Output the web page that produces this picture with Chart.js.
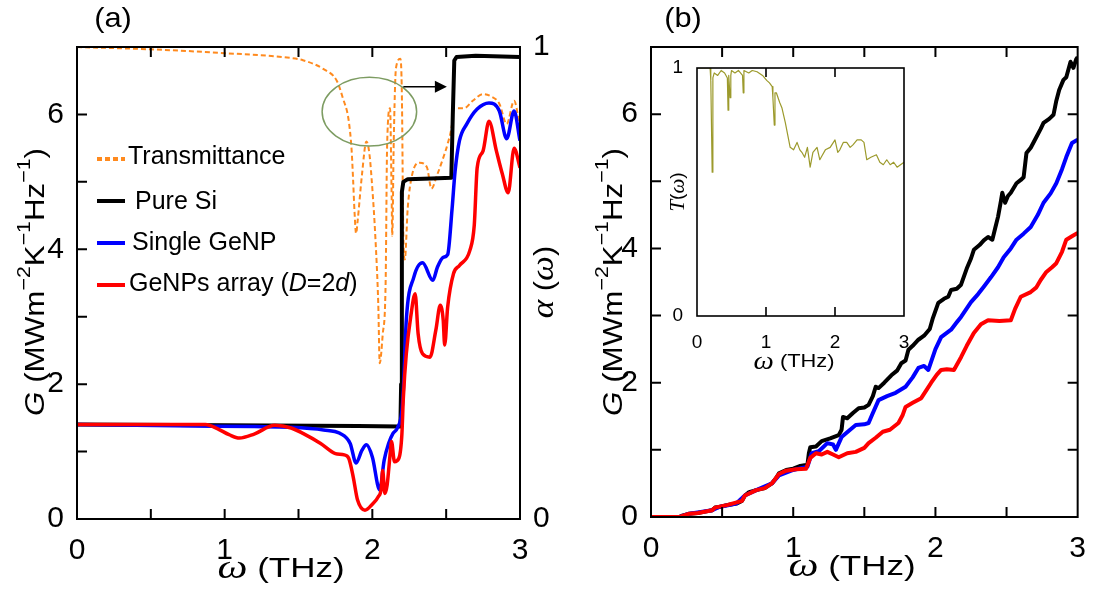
<!DOCTYPE html>
<html>
<head>
<meta charset="utf-8">
<script src="https://cdn.jsdelivr.net/npm/chart.js@4.4.0/dist/chart.umd.min.js"></script>
<style>
  body { margin: 0; background: #fff; }
  #wrap { position: relative; width: 1095px; height: 590px; overflow: hidden; }
  .box { position: absolute; }
</style>
</head>
<body>
<div id="wrap">
  <div class="box" style="left:0;top:0"><canvas id="graficoA" width="560" height="590"></canvas></div>
  <div class="box" style="left:560px;top:0"><canvas id="graficoB" width="535" height="590"></canvas></div>
  <div class="box" style="left:630px;top:50px"><canvas id="graficoInset" width="300" height="330"></canvas></div>
</div>
<script>
// ===============================
//   DADOS  (omega em THz, G em MWm-2K-1Hz-1)
// ===============================
// painel (a)
const aTransmitancia = [[0,1.0],[0.5,0.995],[1.0,0.987],[1.44,0.977],[1.53,0.972],[1.67,0.953],[1.76,0.928],[1.8,0.892],
  [1.84,0.844],[1.86,0.78],[1.87,0.717],[1.88,0.647],[1.89,0.605],[1.9,0.63],[1.93,0.73],[1.96,0.80],[1.98,0.774],[2.0,0.70],
  [2.02,0.6],[2.04,0.457],[2.05,0.33],[2.07,0.39],[2.09,0.5],[2.1,0.79],[2.12,0.87],[2.13,0.7],[2.135,0.6],[2.145,0.8],
  [2.16,0.955],[2.19,0.975],[2.2,0.9],[2.21,0.6],[2.22,0.55],[2.24,0.66],[2.27,0.73],[2.32,0.755],[2.37,0.745],[2.4,0.70],
  [2.44,0.73],[2.48,0.765],[2.51,0.795],[2.54,0.837],[2.55,0.87],[2.62,0.87],[2.68,0.886],[2.75,0.9],[2.8,0.896],
  [2.86,0.88],[2.91,0.837],[2.96,0.886],[3.0,0.83]];
const aPureSi = [[0,1.40],[1.0,1.39],[1.9,1.38],[2.19,1.37],[2.195,2.0],[2.2,4.85],[2.21,5.0],[2.24,5.04],[2.4,5.05],
  [2.535,5.06],[2.545,6.0],[2.555,6.8],[2.57,6.85],[2.7,6.87],[3.0,6.85]];
const aSingleGeNP = [[0,1.40],[0.8,1.38],[1.2,1.37],[1.44,1.36],[1.67,1.32],[1.78,1.27],[1.85,1.12],[1.89,0.83],[1.93,1.02],
  [1.96,1.10],[2.0,0.92],[2.05,0.43],[2.08,0.87],[2.11,1.12],[2.14,1.27],[2.17,1.35],[2.2,1.6],[2.21,1.91],[2.23,2.95],
  [2.28,3.58],[2.34,3.80],[2.41,3.54],[2.44,3.73],[2.48,3.88],[2.51,3.92],[2.54,4.6],[2.56,5.15],[2.59,5.61],[2.64,5.86],
  [2.71,6.08],[2.79,6.17],[2.86,6.05],[2.91,5.64],[2.96,6.05],[3.0,5.61]];
const aGeNPsArray = [[0,1.40],[0.87,1.40],[0.95,1.34],[1.03,1.25],[1.1,1.20],[1.2,1.26],[1.34,1.39],[1.45,1.35],[1.53,1.27],
  [1.65,1.12],[1.75,0.97],[1.81,0.95],[1.84,0.9],[1.87,0.63],[1.9,0.28],[1.95,0.13],[2.0,0.22],[2.04,0.33],[2.06,0.45],
  [2.07,0.72],[2.085,0.38],[2.1,0.5],[2.12,0.95],[2.13,1.15],[2.15,0.85],[2.18,0.9],[2.2,1.25],[2.21,1.8],[2.23,2.45],
  [2.26,3.0],[2.29,3.34],[2.31,2.75],[2.34,2.45],[2.39,2.4],[2.43,2.8],[2.46,3.17],[2.48,2.95],[2.49,2.58],[2.51,3.14],
  [2.55,3.64],[2.59,3.76],[2.66,3.98],[2.69,4.35],[2.71,5.21],[2.75,5.46],[2.79,5.9],[2.84,5.46],[2.88,5.12],[2.92,4.84],
  [2.96,5.5],[3.0,5.21]];

// painel (b)
const bPureSi = [[0,0],[0.2,0],[0.22,0.02],[0.27,0.05],[0.33,0.06],[0.38,0.08],[0.43,0.1],[0.45,0.14],[0.48,0.15],[0.54,0.18],
  [0.6,0.2],[0.64,0.24],[0.66,0.32],[0.69,0.37],[0.74,0.4],[0.8,0.43],[0.85,0.5],[0.88,0.58],[0.9,0.65],[0.95,0.7],[1.0,0.72],
  [1.05,0.76],[1.1,0.78],[1.11,0.95],[1.12,1.04],[1.16,1.05],[1.2,1.13],[1.26,1.17],[1.32,1.22],[1.34,1.3],[1.35,1.49],
  [1.38,1.47],[1.42,1.55],[1.46,1.62],[1.5,1.63],[1.53,1.67],[1.56,1.8],[1.58,1.94],[1.6,1.92],[1.64,2.0],[1.69,2.11],
  [1.73,2.18],[1.76,2.29],[1.79,2.33],[1.81,2.49],[1.84,2.55],[1.88,2.64],[1.92,2.7],[1.96,2.8],[1.98,2.95],[2.02,3.19],
  [2.06,3.25],[2.09,3.28],[2.11,3.38],[2.15,3.4],[2.18,3.46],[2.22,3.7],[2.25,3.85],[2.27,3.98],[2.31,4.05],[2.34,4.12],
  [2.37,4.17],[2.4,4.13],[2.42,4.3],[2.44,4.47],[2.46,4.7],[2.47,4.83],[2.49,4.68],[2.51,4.78],[2.53,4.83],[2.57,4.97],
  [2.6,5.02],[2.62,5.06],[2.64,5.42],[2.67,5.5],[2.71,5.66],[2.74,5.78],[2.76,5.87],[2.8,5.93],[2.83,5.99],[2.85,6.2],
  [2.87,6.36],[2.9,6.51],[2.92,6.55],[2.95,6.78],[2.97,6.69],[2.99,6.82],[3.0,6.85]];
const bSingleGeNP = [[0,0],[0.2,0],[0.27,0.05],[0.43,0.1],[0.48,0.15],[0.6,0.2],[0.66,0.32],[0.74,0.4],[0.85,0.5],[0.9,0.62],
  [1.0,0.7],[1.1,0.75],[1.13,0.95],[1.18,0.98],[1.24,1.1],[1.28,1.08],[1.3,1.0],[1.34,1.19],[1.4,1.3],[1.44,1.37],[1.5,1.38],
  [1.53,1.4],[1.56,1.55],[1.6,1.74],[1.66,1.8],[1.72,1.85],[1.79,1.94],[1.84,2.08],[1.88,2.22],[1.92,2.25],[1.95,2.19],
  [2.0,2.5],[2.04,2.68],[2.11,2.79],[2.15,2.9],[2.18,2.98],[2.25,3.2],[2.3,3.32],[2.34,3.43],[2.39,3.57],[2.44,3.72],
  [2.48,3.87],[2.53,4.0],[2.57,4.13],[2.62,4.22],[2.67,4.32],[2.72,4.5],[2.76,4.68],[2.81,4.82],[2.85,4.97],[2.89,5.18],
  [2.92,5.36],[2.96,5.57],[3.0,5.62]];
const bGeNPsArray = [[0,0],[0.2,0],[0.27,0.05],[0.33,0.06],[0.43,0.1],[0.45,0.14],[0.54,0.18],[0.64,0.24],[0.66,0.32],
  [0.74,0.4],[0.8,0.43],[0.85,0.5],[0.9,0.64],[0.95,0.69],[1.02,0.71],[1.09,0.72],[1.12,0.88],[1.16,0.95],[1.2,0.93],
  [1.24,0.97],[1.28,0.93],[1.32,0.89],[1.38,0.95],[1.44,0.97],[1.5,1.03],[1.53,1.1],[1.58,1.18],[1.63,1.27],[1.68,1.3],
  [1.74,1.4],[1.77,1.52],[1.79,1.64],[1.84,1.7],[1.9,1.77],[1.94,1.9],[1.97,2.0],[2.01,2.12],[2.04,2.19],[2.08,2.2],
  [2.13,2.19],[2.18,2.38],[2.22,2.55],[2.27,2.74],[2.32,2.87],[2.37,2.93],[2.45,2.92],[2.53,2.93],[2.56,3.1],[2.6,3.28],
  [2.67,3.35],[2.71,3.42],[2.74,3.53],[2.78,3.65],[2.82,3.72],[2.85,3.78],[2.89,3.95],[2.92,4.13],[2.96,4.18],[3.0,4.23]];

// inset T(omega)
const insetT = [[0,1],[0.19,1],[0.2,0.95],[0.22,0.58],[0.23,0.96],[0.25,0.98],[0.3,0.97],[0.35,0.99],[0.4,0.98],[0.44,0.96],
  [0.45,0.83],[0.46,0.97],[0.48,0.88],[0.49,0.97],[0.5,0.99],[0.55,0.98],[0.6,0.99],[0.66,0.97],[0.67,0.9],[0.68,0.99],
  [0.75,0.98],[0.8,0.99],[0.87,0.985],[0.95,0.97],[1.01,0.95],[1.05,0.94],[1.09,0.925],[1.1,0.88],[1.12,0.77],[1.13,0.9],
  [1.15,0.9],[1.2,0.86],[1.23,0.84],[1.28,0.78],[1.35,0.68],[1.4,0.67],[1.45,0.7],[1.49,0.67],[1.52,0.66],[1.56,0.64],
  [1.6,0.68],[1.64,0.6],[1.68,0.66],[1.74,0.68],[1.78,0.63],[1.81,0.645],[1.86,0.67],[1.93,0.68],[2.0,0.71],[2.04,0.66],
  [2.07,0.67],[2.12,0.7],[2.17,0.70],[2.22,0.68],[2.26,0.69],[2.32,0.71],[2.38,0.71],[2.42,0.7],[2.46,0.63],[2.52,0.64],
  [2.6,0.65],[2.65,0.62],[2.7,0.61],[2.75,0.63],[2.8,0.61],[2.85,0.62],[2.9,0.6],[2.95,0.61],[3.0,0.62]];

// anotacoes do painel (a), em unidades dos eixos
const elipse = { w: 1.98, g: 6.04, rw: 0.32, rg: 0.51 };
const seta = { w0: 2.21, w1: 2.505, g: 6.41 };

const SANS = "'Liberation Sans', Arial, sans-serif";
const SERIF = "'Liberation Serif', 'Times New Roman', serif";
const pts = (arr) => arr.map(p => ({ x: p[0], y: p[1] }));

// ===============================
//   PLUGINS
// ===============================
function desenhaTexto(ctx, it) {
  ctx.save();
  ctx.translate(it.x, it.y);
  if (it.rot) ctx.rotate(it.rot);
  ctx.scale(it.sx || 1, 1);
  ctx.fillStyle = '#000';
  ctx.textBaseline = 'middle';
  ctx.textAlign = 'left';
  let w = 0;
  it.parts.forEach(p => { ctx.font = p.font; w += ctx.measureText(p.t).width; });
  let x = it.align === 'left' ? 0 : -w / 2;
  it.parts.forEach(p => {
    ctx.font = p.font;
    ctx.fillText(p.t, x, p.dy || 0);
    x += ctx.measureText(p.t).width;
  });
  ctx.restore();
}

// moldura + ticks para dentro
const moldura = {
  id: 'moldura',
  beforeDatasetsDraw(chart, args, o) {
    if (!o.fundo) return;
    const a = chart.chartArea;
    chart.ctx.save();
    chart.ctx.fillStyle = '#fff';
    chart.ctx.fillRect(a.left, a.top, a.right - a.left, a.bottom - a.top);
    chart.ctx.restore();
  },
  afterDatasetsDraw(chart, args, o) {
    const { ctx, chartArea: a, scales } = chart;
    const L = o.len || 10;
    ctx.save();
    ctx.strokeStyle = '#000';
    ctx.lineWidth = o.lw || 2;
    ctx.beginPath();
    scales.x.ticks.forEach(t => {
      const px = scales.x.getPixelForValue(t.value);
      if (px <= a.left + 1 || px >= a.right - 1) return;
      ctx.moveTo(px, a.bottom); ctx.lineTo(px, a.bottom - L);
      ctx.moveTo(px, a.top); ctx.lineTo(px, a.top + L);
    });
    if (o.yTicks) {
      scales.y.ticks.forEach(t => {
        const py = scales.y.getPixelForValue(t.value);
        if (py <= a.top + 1 || py >= a.bottom - 1) return;
        ctx.moveTo(a.left, py); ctx.lineTo(a.left + L, py);
        if (o.rightTicks) { ctx.moveTo(a.right, py); ctx.lineTo(a.right - L, py); }
      });
    }
    ctx.stroke();
    ctx.strokeRect(a.left, a.top, a.right - a.left, a.bottom - a.top);
    ctx.restore();
  }
};

const textos = {
  id: 'textos',
  afterDraw(chart, args, o) {
    (o.itens || []).forEach(it => desenhaTexto(chart.ctx, it));
  }
};

// legenda, elipse e seta do painel (a)
const extrasA = {
  id: 'extrasA',
  afterDatasetsDraw(chart) {
    const { ctx, scales } = chart;
    const x = scales.x, y = scales.y;
    ctx.save();
    // elipse verde
    const cx = x.getPixelForValue(elipse.w), cy = y.getPixelForValue(elipse.g);
    const rx = x.getPixelForValue(elipse.w + elipse.rw) - cx;
    const ry = cy - y.getPixelForValue(elipse.g + elipse.rg);
    ctx.strokeStyle = '#7d9c62';
    ctx.lineWidth = 1.5;
    ctx.beginPath();
    ctx.ellipse(cx, cy, rx, ry, 0, 0, Math.PI * 2);
    ctx.stroke();
    // seta
    const x0 = x.getPixelForValue(seta.w0), x1 = x.getPixelForValue(seta.w1), sy = y.getPixelForValue(seta.g);
    ctx.strokeStyle = '#000';
    ctx.fillStyle = '#000';
    ctx.lineWidth = 1.5;
    ctx.beginPath(); ctx.moveTo(x0, sy); ctx.lineTo(x1 - 10, sy); ctx.stroke();
    ctx.beginPath(); ctx.moveTo(x1, sy); ctx.lineTo(x1 - 12, sy - 6); ctx.lineTo(x1 - 12, sy + 6); ctx.closePath(); ctx.fill();

    // legenda
    const leg = [
      { cor: '#ff8a1e', dash: [5, 3], y: 159, tx: 128, ty: 157, parts: [{ t: 'Transmittance' }] },
      { cor: '#000', dash: [], y: 201, tx: 135, ty: 202, parts: [{ t: 'Pure Si' }] },
      { cor: '#0000ff', dash: [], y: 243, tx: 132, ty: 243, parts: [{ t: 'Single GeNP' }] },
      { cor: '#ff0000', dash: [], y: 285, tx: 129, ty: 284,
        parts: [{ t: 'GeNPs array (' }, { t: 'D', it: true }, { t: '=2' }, { t: 'd', it: true }, { t: ')' }] }
    ];
    leg.forEach(l => {
      ctx.strokeStyle = l.cor;
      ctx.lineWidth = 4;
      ctx.setLineDash(l.dash);
      ctx.beginPath(); ctx.moveTo(97, l.y); ctx.lineTo(125, l.y); ctx.stroke();
      ctx.setLineDash([]);
      desenhaTexto(ctx, { x: l.tx, y: l.ty, align: 'left',
        parts: l.parts.map(p => ({ t: p.t, font: (p.it ? 'italic ' : '') + '25px ' + SANS })) });
    });
    ctx.restore();
  }
};

// ===============================
//   OPCOES COMUNS
// ===============================
function eixoX(alt, tam, pad, passo, soInteiros) {
  return {
    type: 'linear', min: 0, max: 3,
    grid: { display: false }, border: { display: false },
    ticks: { stepSize: passo, autoSkip: false, maxRotation: 0, padding: pad, color: '#000',
      font: { family: SANS, size: tam, lineHeight: 1 },
      callback: v => (!soInteiros || Number.isInteger(v)) ? v : '' },
    afterFit: s => { s.height = alt; }
  };
}
function eixoY(pos, larg, max, tam, pad, passo, rotuloCada) {
  return {
    type: 'linear', position: pos, min: 0, max: max,
    grid: { display: false }, border: { display: false },
    ticks: { stepSize: passo, autoSkip: false, padding: pad, color: '#000',
      font: { family: SANS, size: tam },
      callback: v => (v % rotuloCada === 0) ? v : '' },
    afterFit: s => { s.width = larg; }
  };
}
const linha = (label, dados, cor, larg, ordem, extra) => Object.assign({
  label, data: pts(dados), borderColor: cor, borderWidth: larg, pointRadius: 0,
  tension: 0, fill: false, order: ordem, borderJoinStyle: 'round'
}, extra || {});

const tituloG = (x) => ({
  x: x, y: 282, rot: -Math.PI / 2, sx: 1.12,
  parts: [
    { t: 'G', font: 'italic 28px ' + SANS },
    { t: ' (MWm', font: '28px ' + SANS },
    { t: '\u22122', font: '19px ' + SANS, dy: -11 },
    { t: 'K', font: '28px ' + SANS },
    { t: '\u22121', font: '19px ' + SANS, dy: -11 },
    { t: 'Hz', font: '28px ' + SANS },
    { t: '\u22121', font: '19px ' + SANS, dy: -11 },
    { t: ')', font: '28px ' + SANS }
  ]
});
const tituloW = (x, y, tam, sx) => ({
  x: x, y: y, sx: sx,
  parts: [
    { t: '\u03C9', font: 'italic ' + (tam + 6) + 'px ' + SERIF },
    { t: ' (THz)', font: tam + 'px ' + SANS }
  ]
});

// ===============================
//   PAINEL (a)
// ===============================
new Chart(document.getElementById('graficoA'), {
  type: 'line',
  data: {
    datasets: [
      linha('Transmittance', aTransmitancia, '#ff8a1e', 2, 3,
        { yAxisID: 'y2', borderDash: [5, 3], cubicInterpolationMode: 'monotone' }),
      linha('Pure Si', aPureSi, '#000000', 4, 2, { yAxisID: 'y' }),
      linha('Single GeNP', aSingleGeNP, '#0000ff', 3.5, 1, { yAxisID: 'y', cubicInterpolationMode: 'monotone' }),
      linha('GeNPs array (D=2d)', aGeNPsArray, '#ff0000', 3.5, 0, { yAxisID: 'y', cubicInterpolationMode: 'monotone' })
    ]
  },
  options: {
    responsive: false, animation: false,
    layout: { padding: { top: 47, left: 0, right: 0, bottom: 0 } },
    plugins: {
      legend: { display: false }, tooltip: { enabled: false },
      moldura: { yTicks: true, rightTicks: false, len: 10 },
      textos: { itens: [
        { x: 113, y: 19, sx: 1.1, parts: [{ t: '(a)', font: '28px ' + SANS }] },
        tituloG(36),
        tituloW(281, 569, 28, 1.25),
        { x: 545, y: 282, rot: -Math.PI / 2, sx: 1.1, parts: [
          { t: '\u03B1', font: 'italic 32px ' + SERIF },
          { t: ' (', font: '28px ' + SANS },
          { t: '\u03C9', font: 'italic 32px ' + SERIF },
          { t: ')', font: '28px ' + SANS }
        ] }
      ] }
    },
    scales: {
      x: eixoX(71, 30, 9, 0.5, true),
      y: eixoY('left', 77, 7, 30, 5, 1, 2),
      y2: eixoY('right', 40, 1, 30, 5, 1, 1)
    }
  },
  plugins: [moldura, extrasA, textos]
});

// ===============================
//   PAINEL (b)
// ===============================
new Chart(document.getElementById('graficoB'), {
  type: 'line',
  data: {
    datasets: [
      linha('Pure Si', bPureSi, '#000000', 4, 2),
      linha('Single GeNP', bSingleGeNP, '#0000ff', 4, 1),
      linha('GeNPs array (D=2d)', bGeNPsArray, '#ff0000', 4, 0)
    ]
  },
  options: {
    responsive: false, animation: false,
    layout: { padding: { top: 47, left: 0, right: 14, bottom: 0 } },
    plugins: {
      legend: { display: false }, tooltip: { enabled: false },
      moldura: { yTicks: true, rightTicks: true, len: 10 },
      textos: { itens: [
        { x: 123, y: 19, sx: 1.1, parts: [{ t: '(b)', font: '28px ' + SANS }] },
        tituloG(54),
        tituloW(292, 567, 28, 1.25)
      ] }
    },
    scales: {
      x: eixoX(73, 30, 9, 0.5, true),
      y: eixoY('left', 91, 7, 30, 5, 1, 2)
    }
  },
  plugins: [moldura, textos]
});

// ===============================
//   INSET T(omega)
// ===============================
new Chart(document.getElementById('graficoInset'), {
  type: 'line',
  data: {
    datasets: [ linha('T', insetT, '#9c9a2c', 1.2, 0) ]
  },
  options: {
    responsive: false, animation: false,
    layout: { padding: { top: 18, left: 0, right: 26, bottom: 0 } },
    plugins: {
      legend: { display: false }, tooltip: { enabled: false },
      moldura: { yTicks: false, len: 9, lw: 1.6, fundo: true },
      textos: { itens: [
        tituloW(164, 312, 19, 1.15),
        { x: 48, y: 142, rot: -Math.PI / 2, parts: [
          { t: 'T', font: 'italic 21px ' + SERIF },
          { t: '(', font: '19px ' + SANS },
          { t: '\u03C9', font: 'italic 21px ' + SERIF },
          { t: ')', font: '19px ' + SANS }
        ] }
      ] }
    },
    scales: {
      x: eixoX(64, 19, 9, 1, false),
      y: eixoY('left', 67, 1, 19, 6, 1, 1)
    }
  },
  plugins: [moldura, textos]
});
</script>
</body>
</html>
